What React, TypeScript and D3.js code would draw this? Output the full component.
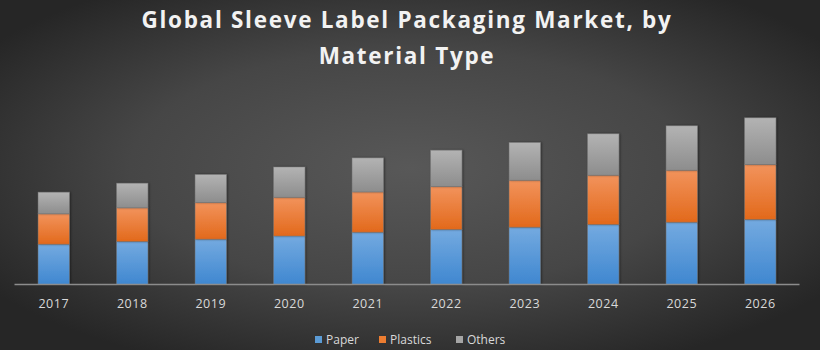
import React from 'react';
import * as d3 from 'd3';

// values (relative units)
const years = ['2017', '2018', '2019', '2020', '2021', '2022', '2023', '2024', '2025', '2026'];
const paper = [40.3, 43, 45.3, 48.5, 52.3, 55, 57.3, 60, 62.3, 65];
const plastics = [30.4, 33.7, 36.7, 38.7, 40.3, 43, 47, 49.3, 52, 55];
const others = [21.6, 24.6, 28, 30.3, 34, 36.3, 37.7, 41.4, 44.4, 46.7];
const seriesNames = ['Paper', 'Plastics', 'Others'];

const W = 820;
const H = 350;
const font = '"Open Sans", "DejaVu Sans", sans-serif';

const gradients = {
  Paper: ['#74aae0', '#3f87d0'],
  Plastics: ['#f2935c', '#e2691b'],
  Others: ['#b3b3b3', '#8d8d8d'],
};
const legendColor = { Paper: '#5b9bd5', Plastics: '#ed7d31', Others: '#a5a5a5' };

const App = () => {
  const rows = years.map((y, i) => ({ year: y, Paper: paper[i], Plastics: plastics[i], Others: others[i] }));
  const stacked = d3.stack().keys(seriesNames)(rows as any);

  const x = d3.scaleBand().domain(years).range([14.5, 799.5]).paddingInner(0.6).paddingOuter(0.3);
  const y = d3.scaleLinear().domain([0, 200]).range([284.5, 84.5]);

  // legend layout
  const legendItems = [
    { name: 'Paper', x: 315 },
    { name: 'Plastics', x: 379 },
    { name: 'Others', x: 456 },
  ];

  return (
    <svg width={W} height={H} style={{ position: 'absolute', left: 0, top: 0, display: 'block' }}>
      <defs>
        <radialGradient id="bg" cx="50%" cy="48%" r="62%">
          <stop offset="0%" stopColor="#585858" />
          <stop offset="55%" stopColor="#464646" />
          <stop offset="100%" stopColor="#262626" />
        </radialGradient>
        {seriesNames.map(k => (
          <linearGradient key={k} id={`g-${k}`} x1="0" y1="0" x2="0" y2="1">
            <stop offset="0%" stopColor={gradients[k][0]} />
            <stop offset="100%" stopColor={gradients[k][1]} />
          </linearGradient>
        ))}
        <filter id="shadow" x="-20%" y="-5%" width="140%" height="110%">
          <feDropShadow dx="1" dy="0" stdDeviation="1.2" floodColor="#000" floodOpacity="0.45" />
        </filter>
      </defs>

      <rect width={W} height={H} fill="url(#bg)" />

      <text x={407} y={28} textAnchor="middle" fill="#f2f2f2" fontFamily={font} fontWeight="bold" fontSize={22.5} letterSpacing={1.7}>
        Global Sleeve Label Packaging Market, by
      </text>
      <text x={407} y={64} textAnchor="middle" fill="#f2f2f2" fontFamily={font} fontWeight="bold" fontSize={22.5} letterSpacing={1.7}>
        Material Type
      </text>

      {stacked.map(s => (
        <g key={s.key} filter="url(#shadow)">
          {s.map((d, i) => (
            <rect
              key={i}
              x={x(years[i])}
              y={y(d[1])}
              width={x.bandwidth()}
              height={y(d[0]) - y(d[1])}
              fill={`url(#g-${s.key})`}
              stroke="rgba(120,120,120,0.55)"
              strokeWidth={0.8}
            />
          ))}
        </g>
      ))}

      <line x1={14.5} x2={799.5} y1={284.5} y2={284.5} stroke="#8c8c8c" strokeWidth={1.5} />

      {years.map(yr => (
        <text
          key={yr}
          x={(x(yr) as number) + x.bandwidth() / 2}
          y={308}
          textAnchor="middle"
          fill="#d9d9d9"
          fontFamily={font}
          fontSize={12.5}
          letterSpacing={0.5}
        >
          {yr}
        </text>
      ))}

      {legendItems.map(it => (
        <g key={it.name}>
          <rect x={it.x} y={336} width={7} height={7} fill={legendColor[it.name]} />
          <text x={it.x + 11} y={343.5} fill="#d9d9d9" fontFamily={font} fontSize={12}>
            {it.name}
          </text>
        </g>
      ))}
    </svg>
  );
};

export default App;
